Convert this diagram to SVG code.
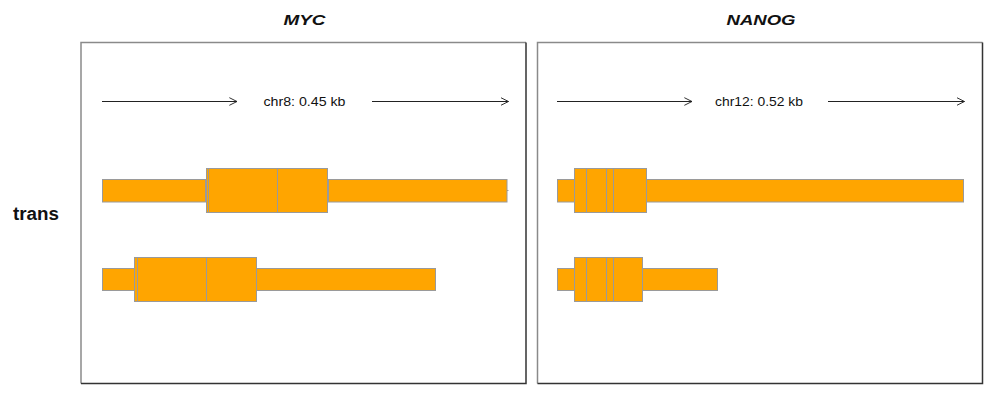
<svg xmlns="http://www.w3.org/2000/svg" width="993" height="403" viewBox="0 0 993 403">
  <defs>
    <style>
      .title { font-family: "Liberation Sans", Arial, sans-serif; font-size: 15px; font-weight: bold; font-style: italic; fill: #111; }
      .axis { font-family: "Liberation Sans", Arial, sans-serif; font-size: 13.5px; fill: #111; }
      .row { font-family: "Liberation Sans", Arial, sans-serif; font-size: 18px; font-weight: bold; fill: #111; }
      .frameLight { stroke: #8a8a8a; stroke-width: 1.5; fill: none; }
      .frameDark { stroke: #333; stroke-width: 1.5; fill: none; }
      .arrow { stroke: #222; stroke-width: 1; fill: none; marker-end: url(#chev); }
      .ex { fill: #FFA500; stroke: #9a9a9a; stroke-width: 1; }
      .div { stroke: #9a9a9a; stroke-width: 1; }
    </style>
    <marker id="chev" viewBox="0 0 10 10" refX="9" refY="5" markerWidth="8.5" markerHeight="8.5" markerUnits="userSpaceOnUse" orient="auto">
      <polyline points="0,0.5 9,5 0,9.5" fill="none" stroke="#222" stroke-width="1.1"/>
    </marker>
  </defs>
  <rect width="993" height="403" fill="#fff"/>

  <text class="row" x="13" y="219.5" textLength="46" lengthAdjust="spacingAndGlyphs">trans</text>

  <g id="panel-myc">
    <text class="title" x="304.5" y="25" text-anchor="middle" textLength="42" lengthAdjust="spacingAndGlyphs">MYC</text>
    <polyline class="frameLight" points="81,383.5 81,42.5 526,42.5"/>
    <polyline class="frameDark" points="526,42.5 526,383.5 81,383.5"/>
    <text class="axis" x="304.5" y="106" text-anchor="middle" textLength="82" lengthAdjust="spacingAndGlyphs">chr8: 0.45 kb</text>
  </g>

  <g id="panel-nanog">
    <text class="title" x="761" y="25" text-anchor="middle" textLength="69" lengthAdjust="spacingAndGlyphs">NANOG</text>
    <polyline class="frameLight" points="537.5,383.5 537.5,42.5 982.5,42.5"/>
    <polyline class="frameDark" points="982.5,42.5 982.5,383.5 537.5,383.5"/>
    <text class="axis" x="759" y="106" text-anchor="middle" textLength="88" lengthAdjust="spacingAndGlyphs">chr12: 0.52 kb</text>
  </g>

  <g id="connectors">
    <line class="arrow" x1="102" y1="101.5" x2="237" y2="101.5"/>
    <line class="arrow" x1="372" y1="101.5" x2="508.5" y2="101.5"/>
    <line class="arrow" x1="557" y1="101.5" x2="692" y2="101.5"/>
    <line class="arrow" x1="828" y1="101.5" x2="964.5" y2="101.5"/>
  </g>

  <g id="myc-tx1">
    <line class="div" x1="506" y1="190.5" x2="508.5" y2="190.5"/>
    <rect class="ex" x="102.5" y="179.5" width="103" height="22.5"/>
    <rect class="ex" x="328.5" y="179.5" width="178.5" height="22.5"/>
    <rect class="ex" x="206.5" y="168.5" width="121" height="44"/>
    <line class="div" x1="208.5" y1="168.5" x2="208.5" y2="212.5"/>
    <line class="div" x1="277.5" y1="168.5" x2="277.5" y2="212.5"/>
  </g>

  <g id="myc-tx2">
    <rect class="ex" x="102.5" y="268.5" width="32" height="22"/>
    <rect class="ex" x="256.5" y="268.5" width="179" height="22"/>
    <rect class="ex" x="134.5" y="257.5" width="122" height="44"/>
    <line class="div" x1="137.5" y1="257.5" x2="137.5" y2="301.5"/>
    <line class="div" x1="206.5" y1="257.5" x2="206.5" y2="301.5"/>
  </g>

  <g id="nanog-tx1">
    <rect class="ex" x="557.5" y="179.5" width="406" height="22.5"/>
    <rect class="ex" x="574.5" y="168.5" width="72" height="44"/>
    <line class="div" x1="586.5" y1="168.5" x2="586.5" y2="212.5"/>
    <line class="div" x1="606.5" y1="168.5" x2="606.5" y2="212.5"/>
    <line class="div" x1="613.5" y1="168.5" x2="613.5" y2="212.5"/>
  </g>

  <g id="nanog-tx2">
    <rect class="ex" x="557.5" y="268.5" width="160" height="22"/>
    <rect class="ex" x="574.5" y="257.5" width="68" height="44"/>
    <line class="div" x1="586.5" y1="257.5" x2="586.5" y2="301.5"/>
    <line class="div" x1="606.5" y1="257.5" x2="606.5" y2="301.5"/>
    <line class="div" x1="613.5" y1="257.5" x2="613.5" y2="301.5"/>
  </g>
</svg>
